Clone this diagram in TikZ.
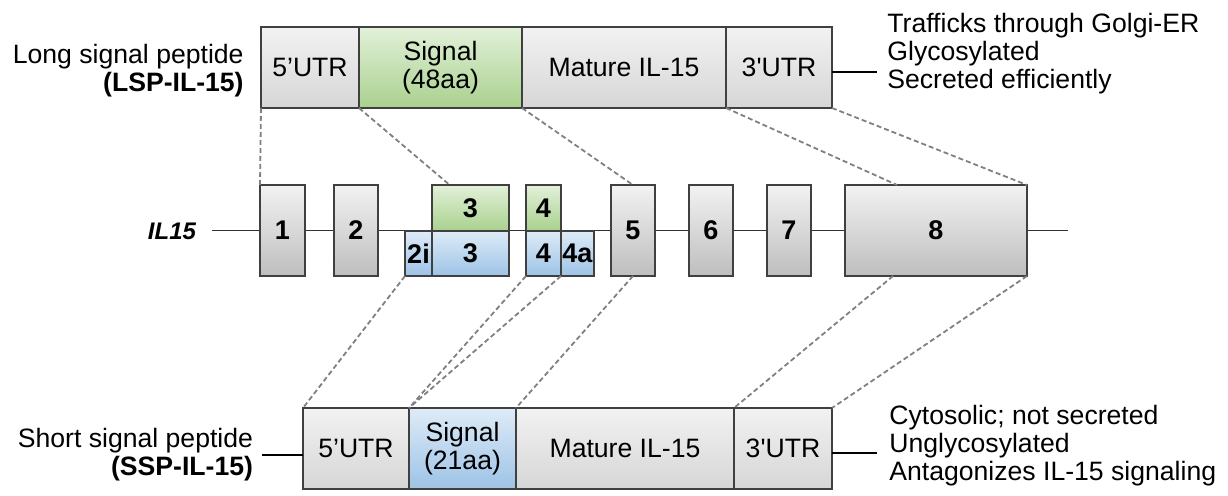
\documentclass[tikz,border=0pt]{standalone}
\usepackage{fontspec}
\setmainfont{Liberation Sans}[Ligatures=TeXOff]
\usetikzlibrary{calc}

\definecolor{edge}{HTML}{404040}
\definecolor{greyhi}{HTML}{F2F2F2}
\definecolor{greylo}{HTML}{D6D6D6}
\definecolor{exonlo}{HTML}{BEBEBE}
\definecolor{greenhi}{HTML}{E2F0D9}
\definecolor{greenlo}{HTML}{A9D18E}
\definecolor{bluehi}{HTML}{DEEBF7}
\definecolor{bluelo}{HTML}{9DC3E6}
\definecolor{dashgrey}{HTML}{808080}

\begin{document}
\begin{tikzpicture}[
    x=0.5pt, y=-0.5pt,
    font=\fontsize{13.3}{14}\selectfont,
    part/.style={rectangle, draw=edge, line width=0.8pt, inner sep=0pt, outer sep=0pt, align=center},
    grey/.style={part, top color=greyhi, bottom color=greylo},
    green/.style={part, top color=greenhi, bottom color=greenlo},
    blue/.style={part, top color=bluehi, bottom color=bluelo},
    exon/.style={part, top color=greyhi, bottom color=exonlo, font=\fontsize{13.5}{14}\selectfont\bfseries},
    tag/.style={inner sep=0pt, align=right},
    info/.style={inner sep=0pt, align=left, anchor=west},
    tie/.style={line width=1pt, black},
    gene/.style={line width=0.5pt, black!80},
    map/.style={draw=dashgrey, line width=0.9pt, dash pattern=on 2.5pt off 1.5pt}
]
    \useasboundingbox (0,0) rectangle (1228,496);

    % long signal peptide transcript
    \foreach \nm/\xa/\xb/\sty/\txt in {lutr5/261/359/grey/5’UTR, lsig/359/522/green/{Signal\\(48aa)}, lmat/522/726/grey/Mature IL-15, lutr3/726/832/grey/3'UTR}
        \node[\sty, minimum width={(\xb-\xa)*0.5pt}, minimum height=40.5pt] (\nm) at ({(\xa+\xb)/2},67.5) {\txt};

    % short signal peptide transcript
    \foreach \nm/\xa/\xb/\sty/\txt in {sutr5/303/409/grey/5’UTR, ssig/409/516/blue/{Signal\\(21aa)}, smat/516/734/grey/Mature IL-15, sutr3/734/832/grey/3'UTR}
        \node[\sty, minimum width={(\xb-\xa)*0.5pt}, minimum height=40.5pt] (\nm) at ({(\xa+\xb)/2},448.5) {\txt};

    % gene with its exons
    \node[tag, anchor=east, outer sep=8pt, font=\fontsize{12}{14}\selectfont\bfseries\itshape] (gene) at (212,231) {IL15};
    \coordinate (gend) at (1068,231);
    \draw[gene] (gene.east) -- (gend);

    \foreach \nm/\xa/\xb/\txt in {e1/260/305/1, e2/334/378/2, e5/611/655/5, e6/689/733/6, e7/767/811/7, e8/845/1027/8}
        \node[exon, minimum width={(\xb-\xa)*0.5pt}, minimum height=45.5pt] (\nm) at ({(\xa+\xb)/2},230.5) {\txt};
    \foreach \nm/\xa/\xb/\txt in {g3/432/509/3, g4/526/561/4}
        \node[exon, green, minimum width={(\xb-\xa)*0.5pt}, minimum height=23pt] (\nm) at ({(\xa+\xb)/2},208) {\txt};
    \foreach \nm/\xa/\xb/\txt in {b2i/405/432/2i, b3/432/509/3, b4/526/561/4, b4a/561/594/4a}
        \node[exon, blue, minimum width={(\xb-\xa)*0.5pt}, minimum height=22.5pt] (\nm) at ({(\xa+\xb)/2},253.5) {\txt};

    % exons -> long form
    \draw[map] (lutr5.south west) -- (e1.north west);
    \draw[map] (lsig.south west) -- ($(g3.north west)!0.23!(g3.north east)$);
    \draw[map] (lsig.south east) -- (e5.north);
    \draw[map] (lutr3.south west) -- ($(e8.north west)!0.286!(e8.north east)$);
    \draw[map] (lutr3.south east) -- (e8.north east);

    % exons -> short form
    \draw[map] (b2i.south west) -- (sutr5.north west);
    \draw[map] (b4.south west) -- (ssig.north west);
    \draw[map] (b4a.south west) -- (ssig.north west);
    \draw[map] (e5.south) -- (ssig.north east);
    \draw[map] ($(e8.south west)!0.264!(e8.south east)$) -- (smat.north east);
    \draw[map] (e8.south east) -- (sutr3.north east);

    % labels and properties
    \node[tag, anchor=east] (ltag) at (244,71) {Long signal peptide\\\textbf{(LSP-IL-15)}};
    \node[tag, anchor=east, outer sep=4.5pt] (stag) at (262,455) {Short signal peptide\\\textbf{(SSP-IL-15)}};
    \draw[tie] (stag.east) -- (stag.east -| sutr5.west);

    \node[info] (linfo) at (887,54) {Trafficks through Golgi-ER\\Glycosylated\\Secreted efficiently};
    \coordinate (lend) at (877,72);
    \draw[tie] (lutr3.east |- lend) -- (lend);

    \node[info] (sinfo) at (889,446) {Cytosolic; not secreted\\Unglycosylated\\Antagonizes IL-15 signaling};
    \coordinate (send) at (877,453);
    \draw[tie] (sutr3.east |- send) -- (send);
\end{tikzpicture}
\end{document}
